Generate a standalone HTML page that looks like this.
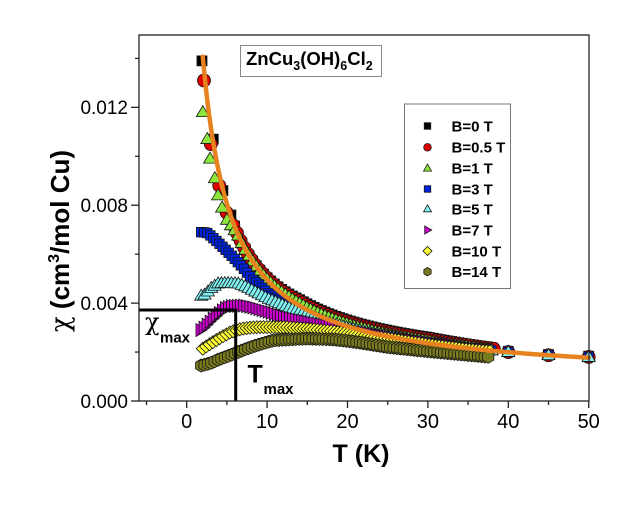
<!DOCTYPE html>
<html>
<head>
<meta charset="utf-8">
<style>
html,body{margin:0;padding:0;background:#fff;}
svg{display:block;}
text{font-family:"Liberation Sans",Arial,sans-serif;fill:#000;}
.chi{font-family:"DejaVu Serif","DejaVu Sans",serif;font-weight:normal;}
</style>
</head>
<body>
<svg id="s" xmlns="http://www.w3.org/2000/svg" width="634" height="505" viewBox="0 0 634 505">
<rect x="0" y="0" width="634" height="505" fill="#fff"/>

<!-- Title box -->
<rect x="240.5" y="45.5" width="141" height="31" fill="#fff" stroke="#888" stroke-width="1"/>
<text x="246" y="65" font-size="18.5" font-weight="bold">ZnCu<tspan font-size="12.5" dy="5">3</tspan><tspan dy="-5">(OH)</tspan><tspan font-size="12.5" dy="5">6</tspan><tspan dy="-5">Cl</tspan><tspan font-size="12.5" dy="5">2</tspan></text>

<!-- Legend box -->
<rect x="404.5" y="104" width="106" height="184.5" fill="#fff" stroke="#777" stroke-width="1"/>
<g id="legm"></g>
<g font-size="15" font-weight="bold">
<text x="451.5" y="131.5">B=0 T</text>
<text x="451.5" y="152.5">B=0.5 T</text>
<text x="451.5" y="173.5">B=1 T</text>
<text x="451.5" y="194.5">B=3 T</text>
<text x="451.5" y="214.5">B=5 T</text>
<text x="451.5" y="235.5">B=7 T</text>
<text x="451.5" y="256.5">B=10 T</text>
<text x="451.5" y="277">B=14 T</text>
</g>

<!-- data -->
<g id="data"></g>
<path id="fit" d="" fill="none" stroke="#E8821E" stroke-width="4.5" stroke-linecap="round"/>

<!-- chi max / T max lines -->
<line x1="139" y1="310" x2="237" y2="310" stroke="#000" stroke-width="3"/>
<line x1="235.7" y1="308.5" x2="235.7" y2="401" stroke="#000" stroke-width="3"/>

<!-- Axes frame -->
<rect x="139" y="35" width="450" height="366" fill="none" stroke="#222" stroke-width="1.3"/>
<g id="ticks" stroke="#222" stroke-width="1.3"></g>

<!-- tick labels -->
<g font-size="19" text-anchor="end">
<text x="128" y="408">0.000</text>
<text x="128" y="310">0.004</text>
<text x="128" y="212">0.008</text>
<text x="128" y="114">0.012</text>
</g>
<g font-size="20" text-anchor="middle">
<text x="186.7" y="428">0</text>
<text x="267.1" y="428">10</text>
<text x="347.5" y="428">20</text>
<text x="427.9" y="428">30</text>
<text x="508.3" y="428">40</text>
<text x="588.7" y="428">50</text>
</g>

<!-- axis titles -->
<text x="361" y="462" font-size="25" font-weight="bold" text-anchor="middle">T (K)</text>
<text transform="translate(69,241) rotate(-90)" font-size="26" font-weight="bold" text-anchor="middle"><tspan class="chi">χ</tspan> (cm<tspan font-size="16" dy="-10">3</tspan><tspan dy="10">/mol Cu)</tspan></text>

<!-- chi max, T max labels -->
<text x="145" y="330" font-size="24" class="chi">χ</text>
<text x="160" y="342.5" font-size="15" font-weight="bold">max</text>
<text x="247.5" y="382.5" font-size="25" font-weight="bold">T</text>
<text x="263.5" y="394" font-size="15" font-weight="bold">max</text>
</svg>

<script>
(function(){
  var X=function(T){return 186.7+8.04*T;};
  var Y=function(v){return 401-24.47*v;};
  var f=function(T){return 0.85+47.6/(T+1.6);};
  function interp(t,T){
    if(T<=t[0][0])return t[0][1];
    for(var i=1;i<t.length;i++){
      if(T<=t[i][0]){var a=t[i-1],b=t[i];return a[1]+(b[1]-a[1])*(T-a[0])/(b[0]-a[0]);}
    }
    return t[t.length-1][1];
  }
  function range(a,b,s){var r=[];for(var t=a;t<=b+1e-9;t+=s)r.push(+t.toFixed(3));return r;}
  var SW='stroke="#151515" stroke-width="0.8"';
  function sq(x,y,s,c){return '<rect x="'+(x-s/2).toFixed(2)+'" y="'+(y-s/2).toFixed(2)+'" width="'+s+'" height="'+s+'" fill="'+c+'" '+SW+'/>';}
  function ci(x,y,r,c){return '<circle cx="'+x.toFixed(2)+'" cy="'+y.toFixed(2)+'" r="'+r+'" fill="'+c+'" '+SW+'/>';}
  function poly(p,c){return '<polygon points="'+p.map(function(q){return q[0].toFixed(2)+','+q[1].toFixed(2);}).join(' ')+'" fill="'+c+'" '+SW+'/>';}
  function tri(x,y,w,h,c){return poly([[x,y-h*0.6],[x-w/2,y+h*0.4],[x+w/2,y+h*0.4]],c);}
  function triR(x,y,w,h,c){return poly([[x+w*0.6,y],[x-w*0.4,y-h/2],[x-w*0.4,y+h/2]],c);}
  function dia(x,y,r,c){return poly([[x,y-r],[x+r,y],[x,y+r],[x-r,y]],c);}
  function hex(x,y,r,c){var p=[];for(var i=0;i<6;i++){var a=Math.PI/180*(60*i-90);p.push([x+r*Math.cos(a),y+r*Math.sin(a)]);}return poly(p,c);}

  function d(T){if(T<8)return 0;if(T<14)return (T-8)/6;if(T<30)return 1;return 1-(T-30)/16;}

  var C={k:'#000000',r:'#E00000',g:'#8CE63C',b:'#0022DD',c:'#80F2F2',m:'#CC00CC',y:'#FFFF33',o:'#7A7A1E'};

  var low0=[[1.9,13.9],[3.3,10.7],[4.5,8.6],[6,7.1]];
  var low05=[[2.15,13.1],[3.0,10.5],[4.05,8.8],[4.97,7.7],[6,7.05]];
  var low1=[[2,11.8],[2.56,10.7],[2.9,9.9],[3.5,9.1],[3.9,8.4],[4.4,7.9],[5,7.4],[6,6.95]];

  function mk(low,amp,hi){
    return function(T){
      if(T>39)return interp(hi,T);
      if(T<=6)return interp(low,T);
      var v=f(T)+amp*d(T);
      if(T<8){ v=v-(8-T)/2*0.05; }
      return v;
    };
  }
  var hi0=[[40,2.03],[45,1.9],[50,1.83]];
  var hiA=[[40,2.0],[45,1.87],[50,1.8]];

  var t3=[[1.8,6.9],[2.5,6.88],[3,6.75],[4,6.45],[5.4,6.0],[6,5.8],[7,5.45],[8.1,5.0],[9,4.75],[10,4.45],[11,4.2],[12,3.98],[14,3.62],[16,3.33],[18,3.1],[20,2.95],[25,2.65],[30,2.38],[35,2.17],[38,2.07],[40,2.0],[45,1.87],[50,1.8]];
  var t5=[[1.8,4.3],[2.3,4.35],[3,4.6],[3.9,4.8],[5,4.82],[6.4,4.8],[7.5,4.65],[8.9,4.4],[10,4.2],[11.4,4.0],[13.5,3.7],[16,3.38],[18,3.17],[20,3.0],[25,2.65],[30,2.38],[35,2.16],[38,2.06],[40,2.0],[45,1.87],[50,1.8]];
  var t7=[[1.7,2.9],[2,2.97],[3,3.3],[4,3.6],[4.6,3.78],[5.5,3.88],[7,3.9],[8.1,3.83],[10,3.65],[12.2,3.43],[14,3.3],[16.3,3.15],[20,2.92],[25,2.62],[30,2.37],[35,2.15],[38,2.06]];
  var t10=[[2,2.14],[3,2.35],[4,2.55],[4.7,2.68],[5.5,2.82],[6.8,2.95],[8,3.0],[9.3,3.02],[12.2,3.02],[13,3.0],[15,2.95],[18,2.85],[21.6,2.7],[25,2.55],[30,2.3],[35,2.1],[38,2.02]];
  var t14=[[1.8,1.45],[3,1.55],[4,1.7],[5.4,1.87],[7,2.08],[8.7,2.28],[10.8,2.48],[12.9,2.52],[15,2.55],[18,2.52],[20,2.45],[21.6,2.38],[25,2.2],[30,2.03],[35,1.88],[37.7,1.8]];

  var series=[
    {Ts:[1.9,3.3,4.5].concat(range(5.5,38.2,0.45),[40,45,50]),v:mk(low0,0.25,hi0),m:function(x,y){return sq(x,y,10,C.k);}},
    {Ts:[2.15,3.0,4.05,4.97].concat(range(5.8,38.2,0.45),[40,45,50]),v:mk(low05,0.18,hiA),m:function(x,y){return ci(x,y,6.5,C.r);}},
    {Ts:[2,2.56,2.9,3.5,3.9,4.4,5.0].concat(range(5.5,38,0.45),[40,45,50]),v:mk(low1,0.1,hiA),m:function(x,y){return tri(x,y,13,11,C.g);}},
    {Ts:range(1.8,38,0.38).concat([40,45,50]),v:function(T){return interp(t3,T);},m:function(x,y){return sq(x,y,9.5,C.b);}},
    {Ts:range(1.8,38,0.42).concat([40,45,50]),v:function(T){return interp(t5,T);},m:function(x,y){return tri(x,y,13,11,C.c);}},
    {Ts:range(1.7,38,0.38),v:function(T){return interp(t7,T);},m:function(x,y){return triR(x,y,11,13,C.m);}},
    {Ts:range(2,38,0.42),v:function(T){return interp(t10,T);},m:function(x,y){return dia(x,y,6.5,C.y);}},
    {Ts:range(1.8,37.8,0.42),v:function(T){return interp(t14,T);},m:function(x,y){return hex(x,y,6.5,C.o);}}
  ];
  var h='';
  series.forEach(function(s){
    s.Ts.forEach(function(T){ h+=s.m(X(T),Y(s.v(T))); });
  });
  document.getElementById('data').innerHTML=h;

  var p='';
  for(var T=2;T<=50.001;T+=0.1){
    p+=(p?'L':'M')+X(T).toFixed(2)+','+Y(f(T)).toFixed(2);
  }
  document.getElementById('fit').setAttribute('d',p);

  var lx=427.5, ly=[126,147.3,168.3,189,209,230,251,271.7];
  var lg='';
  lg+=sq(lx,ly[0],6.5,C.k);
  lg+=ci(lx,ly[1],3.8,C.r);
  lg+=tri(lx,ly[2],8,7,C.g);
  lg+=sq(lx,ly[3],6.5,C.b);
  lg+=tri(lx,ly[4],8,7,C.c);
  lg+=triR(lx,ly[5],7,8,C.m);
  lg+=dia(lx,ly[6],4.5,C.y);
  lg+=hex(lx,ly[7],4.2,C.o);
  document.getElementById('legm').innerHTML=lg;

  var t='';
  for(var k=-5;k<=50;k+=5){
    var x=X(k).toFixed(2), len=(k%10===0)?7:4;
    t+='<line x1="'+x+'" y1="401" x2="'+x+'" y2="'+(401+len)+'"/>';
  }
  for(var v=0;v<=14;v+=2){
    var y=Y(v).toFixed(2), l2=(v%4===0)?8:4;
    t+='<line x1="'+(139-l2)+'" y1="'+y+'" x2="139" y2="'+y+'"/>';
  }
  document.getElementById('ticks').innerHTML=t;
})();
</script>
</body>
</html>
